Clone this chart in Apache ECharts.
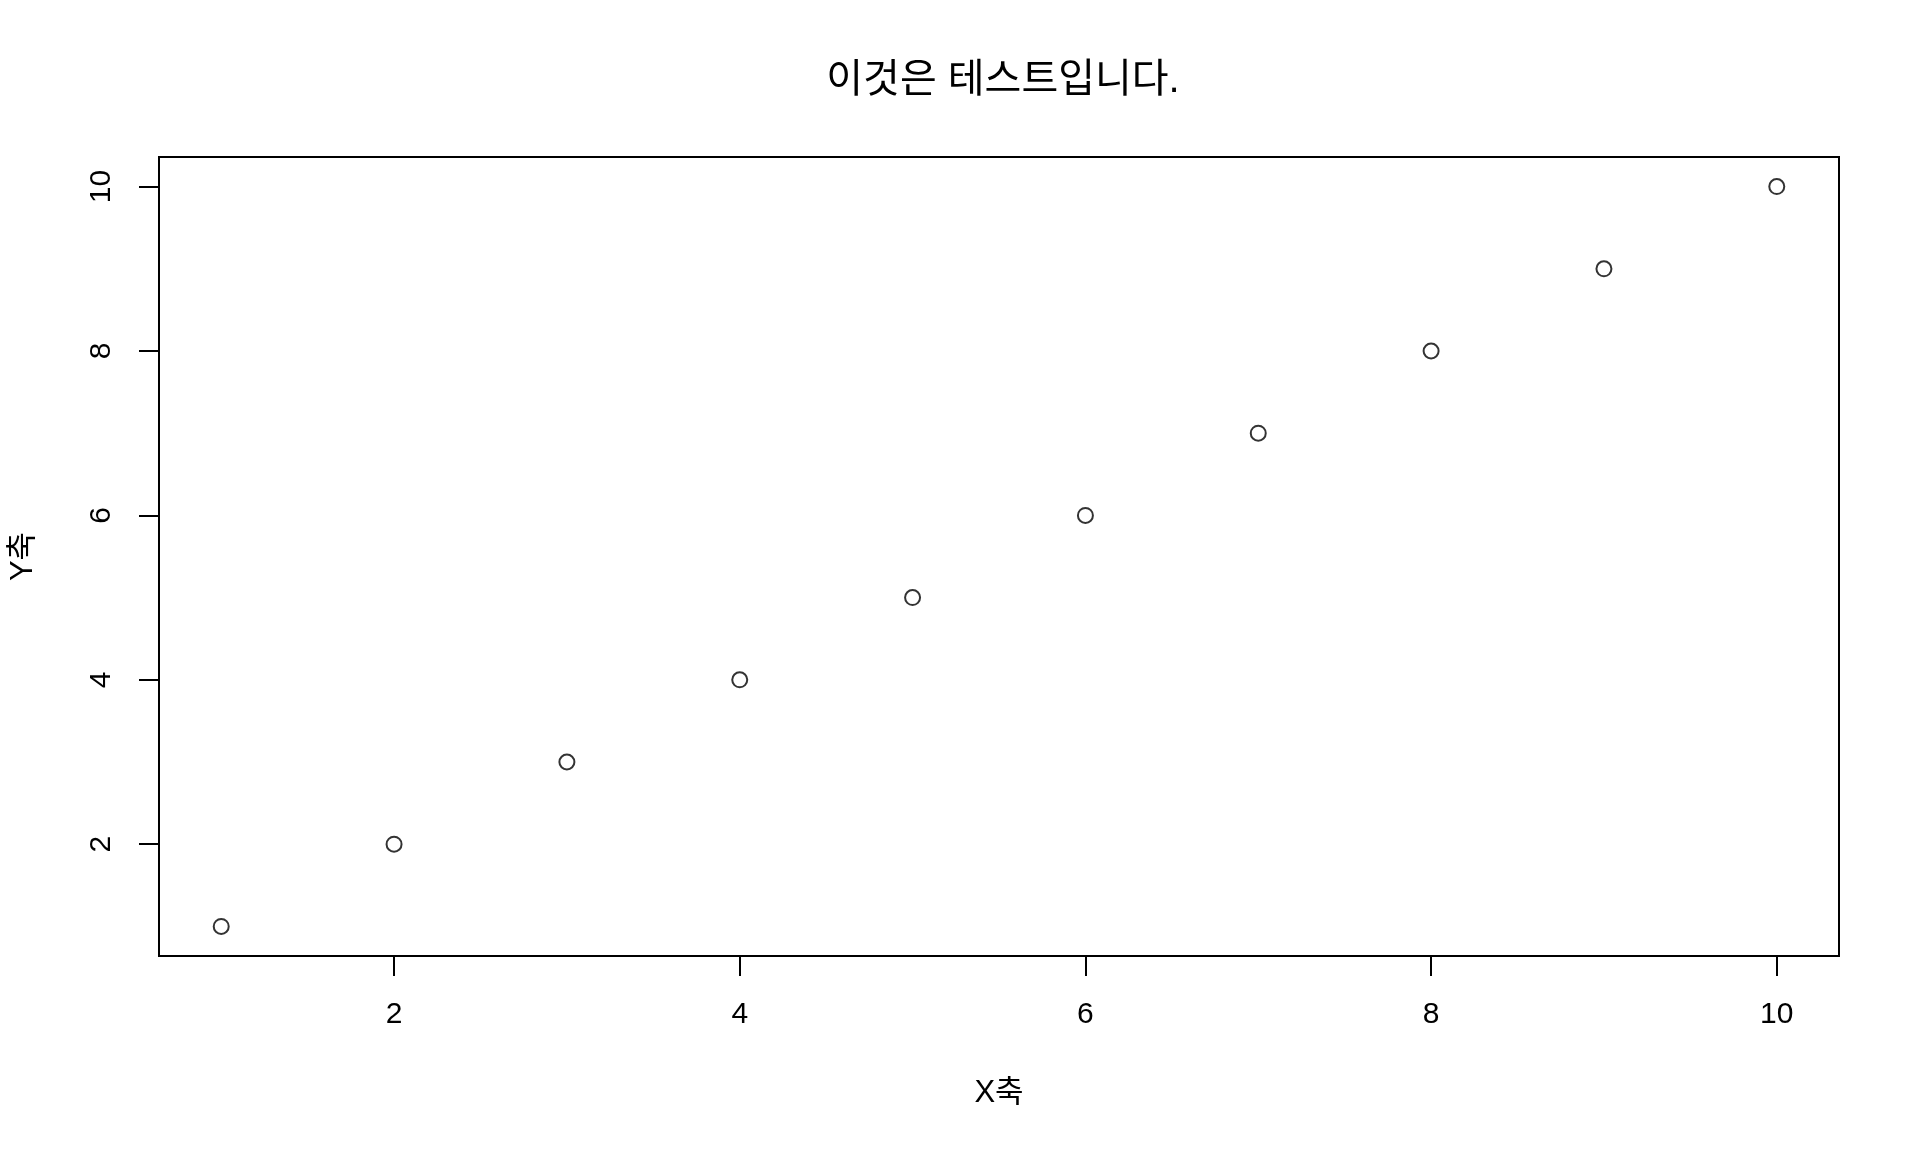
<!DOCTYPE html>
<html>
<head>
    <meta charset="utf-8" />
    <script src="https://cdn.jsdelivr.net/npm/echarts@6/dist/echarts.min.js"></script>
    <style>
        html, body { margin: 0; padding: 0; background: #fff; }
        #chart { width: 1920px; height: 1152px; }
    </style>
</head>
<body>
<div id="chart"></div>
<script>
    // 데이터
    var xValues = [1, 2, 3, 4, 5, 6, 7, 8, 9, 10];
    var yValues = [1, 2, 3, 4, 5, 6, 7, 8, 9, 10];
    var xTicks = [2, 4, 6, 8, 10];
    var yTicks = [2, 4, 6, 8, 10];
    var titleText = '이것은 테스트입니다.';
    var xName = 'X축';
    var yName = 'Y축';

    var points = [];
    for (var i = 0; i < xValues.length; i++) {
        points.push([xValues[i], yValues[i]]);
    }

    var font = '"Liberation Sans", Arial, "Noto Sans CJK KR", sans-serif';

    var myChart = echarts.init(document.getElementById('chart'));
    myChart.setOption({
        backgroundColor: '#fff',
        animation: false,
        title: {
            text: titleText,
            left: 998,
            top: 76,
            textAlign: 'center',
            textVerticalAlign: 'middle',
            textStyle: { fontFamily: font, fontSize: 40, fontWeight: 'normal', color: '#000' }
        },
        grid: {
            left: 157, top: 157, right: 81, bottom: 196,
            show: true, borderColor: '#000', borderWidth: 2,
            containLabel: false
        },
        xAxis: {
            type: 'value',
            min: 0.64, max: 10.36,
            name: xName,
            nameLocation: 'middle',
            nameGap: 122,
            nameTextStyle: { fontFamily: font, fontSize: 31, color: '#000' },
            splitLine: { show: false },
            axisLine: { show: true, lineStyle: { color: '#000', width: 2 } },
            axisTick: { show: true, length: 20, lineStyle: { color: '#000', width: 2 }, customValues: xTicks },
            axisLabel: { fontFamily: font, fontSize: 30, color: '#000', margin: 44, customValues: xTicks }
        },
        yAxis: {
            type: 'value',
            min: 0.64, max: 10.36,
            name: yName,
            nameLocation: 'middle',
            nameGap: 120,
            nameRotate: 90,
            nameTextStyle: { fontFamily: font, fontSize: 31, color: '#000' },
            splitLine: { show: false },
            axisLine: { show: true, lineStyle: { color: '#000', width: 2 } },
            axisTick: { show: true, length: 20, lineStyle: { color: '#000', width: 2 }, customValues: yTicks },
            axisLabel: { fontFamily: font, fontSize: 30, color: '#000', margin: 42, rotate: 90, customValues: yTicks }
        },
        series: [{
            type: 'scatter',
            data: points,
            symbol: 'circle',
            symbolSize: 15,
            itemStyle: { color: '#fff', borderColor: '#000', borderWidth: 2 }
        }]
    });
</script>
</body>
</html>
